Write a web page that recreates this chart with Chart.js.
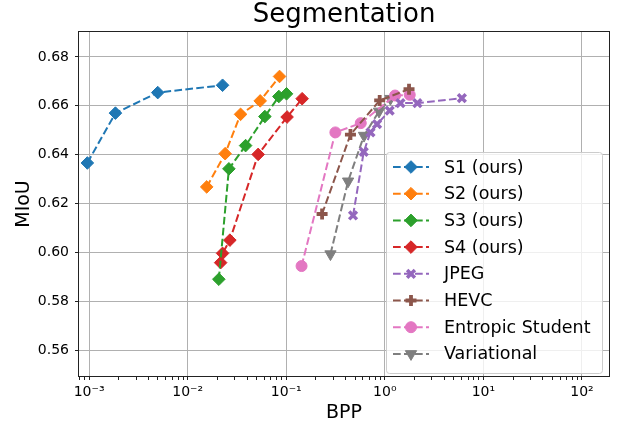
<!DOCTYPE html>
<html>
<head>
<meta charset="utf-8">
<title>Segmentation</title>
<script src="https://cdn.jsdelivr.net/npm/chart.js"></script>
<style>
    body { margin: 0; background: #fff; }
    #wrap { width: 621px; height: 428px; }
</style>
</head>
<body>
<div id="wrap"><canvas id="segChart"></canvas></div>
<script>
// values (x = BPP, y = MIoU)
const s1Bpp = [0.00096, 0.00185, 0.00497, 0.0226];
const s1Miou = [0.6366, 0.6570, 0.6654, 0.6684];
const s2Bpp = [0.0156, 0.0240, 0.0344, 0.0544, 0.0855];
const s2Miou = [0.6268, 0.6404, 0.6565, 0.6620, 0.6720];
const s3Bpp = [0.0207, 0.0262, 0.0387, 0.0607, 0.0841, 0.1007];
const s3Miou = [0.5890, 0.6342, 0.6437, 0.6556, 0.6638, 0.6649];
const s4Bpp = [0.0216, 0.0226, 0.0268, 0.0519, 0.102, 0.145];
const s4Miou = [0.5958, 0.5996, 0.6050, 0.6401, 0.6554, 0.6629];
const jpegBpp = [0.476, 0.611, 0.715, 0.834, 1.12, 1.44, 2.14, 6.05];
const jpegMiou = [0.6151, 0.6411, 0.6491, 0.6525, 0.6580, 0.6611, 0.6611, 0.6631];
const hevcBpp = [0.231, 0.448, 0.887, 1.76];
const hevcMiou = [0.6157, 0.6482, 0.6622, 0.6668];
const studentBpp = [0.143, 0.315, 0.57, 1.27, 1.79];
const studentMiou = [0.5944, 0.6491, 0.6529, 0.6642, 0.6645];
const variationalBpp = [0.281, 0.424, 0.615, 0.873, 1.14];
const variationalMiou = [0.5993, 0.6291, 0.6478, 0.6577, 0.6629];

// tick labels
const xTickValues = [0.001, 0.01, 0.1, 1, 10, 100];
const xTickLabels = ['10\u207B\u00B3', '10\u207B\u00B2', '10\u207B\u00B9', '10\u2070', '10\u00B9', '10\u00B2'];
const yTickValues = [0.56, 0.58, 0.60, 0.62, 0.64, 0.66, 0.68];
const yTickLabels = ['0.56', '0.58', '0.60', '0.62', '0.64', '0.66', '0.68'];

const X_MIN = 7.9e-4, X_MAX = 188;

Chart.defaults.font.family = "'DejaVu Sans', sans-serif";
Chart.defaults.color = '#000';

function pts(xs, ys) {
    return xs.map((x, i) => ({ x: x, y: ys[i] }));
}

function series(label, xs, ys, color, style, radius, pbw, rot) {
    return {
        label: label,
        data: pts(xs, ys),
        showLine: true,
        borderColor: color,
        backgroundColor: color,
        borderWidth: 2,
        borderDash: [7.7, 3.3],
        pointStyle: style,
        pointRadius: radius,
        pointHoverRadius: radius,
        pointBorderWidth: pbw,
        pointRotation: rot || 0,
        pointBackgroundColor: color,
        pointBorderColor: color
    };
}

// minor ticks 2..9 per decade, majors at powers of ten
function logTicks() {
    const out = [];
    for (let e = -4; e <= 2; e++) {
        for (let m = 1; m <= 9; m++) {
            const v = m * Math.pow(10, e);
            if (v >= X_MIN && v <= X_MAX) out.push({ value: v });
        }
    }
    return out;
}

function isMajor(v) {
    const l = Math.log10(v);
    return Math.abs(l - Math.round(l)) < 1e-9;
}

// title centred over the plot area
const titlePlugin = {
    id: 'plotTitle',
    afterDraw(chart) {
        const ctx = chart.ctx, ca = chart.chartArea;
        ctx.save();
        ctx.font = "26px 'DejaVu Sans'";
        ctx.fillStyle = '#000';
        ctx.textAlign = 'center';
        ctx.textBaseline = 'middle';
        ctx.fillText('Segmentation', (ca.left + ca.right) / 2, 15);
        ctx.restore();
    }
};

// frame round the axes
const framePlugin = {
    id: 'frame',
    afterDatasetsDraw(chart) {
        const ctx = chart.ctx, ca = chart.chartArea;
        ctx.save();
        ctx.strokeStyle = '#222';
        ctx.lineWidth = 1;
        ctx.strokeRect(Math.round(ca.left) - 0.5, Math.round(ca.top) - 0.5,
            Math.round(ca.right - ca.left) + 1, Math.round(ca.bottom - ca.top) + 1);
        ctx.restore();
    }
};

// matplotlib-like legend in the lower right corner
const legendPlugin = {
    id: 'boxLegend',
    afterDraw(chart) {
        const ctx = chart.ctx, ca = chart.chartArea;
        const sets = chart.data.datasets;
        const w = 216, rowH = 26.7, h = 221;
        const right = ca.right - 7, bottom = ca.bottom - 3;
        const left = right - w, top = bottom - h;
        ctx.save();
        ctx.beginPath();
        ctx.roundRect(left + 0.5, top + 0.5, w, h, 3);
        ctx.fillStyle = 'rgba(255,255,255,0.8)';
        ctx.fill();
        ctx.strokeStyle = '#cccccc';
        ctx.lineWidth = 1;
        ctx.stroke();

        ctx.font = "17.5px 'DejaVu Sans'";
        ctx.textBaseline = 'middle';
        ctx.textAlign = 'left';
        sets.forEach((ds, i) => {
            const y = top + 15 + i * rowH;
            ctx.beginPath();
            ctx.setLineDash(ds.borderDash);
            ctx.strokeStyle = ds.borderColor;
            ctx.lineWidth = ds.borderWidth;
            ctx.moveTo(left + 7, y);
            ctx.lineTo(left + 43, y);
            ctx.stroke();
            ctx.setLineDash([]);
            ctx.fillStyle = ds.pointBackgroundColor;
            ctx.strokeStyle = ds.pointBorderColor;
            ctx.lineWidth = ds.pointBorderWidth;
            Chart.helpers.drawPoint(ctx, {
                pointStyle: ds.pointStyle,
                rotation: ds.pointRotation,
                radius: ds.pointRadius,
                borderWidth: ds.pointBorderWidth
            }, left + 25, y);
            ctx.fillStyle = '#000';
            ctx.fillText(ds.label, left + 58, y + 1);
        });
        ctx.restore();
    }
};

const segCanvas = document.getElementById('segChart');
new Chart(segCanvas.getContext('2d'), {
    type: 'scatter',
    data: {
        datasets: [
            series('S1 (ours)', s1Bpp, s1Miou, '#1f77b4', 'rectRot', 6.3, 1),
            series('S2 (ours)', s2Bpp, s2Miou, '#ff7f0e', 'rectRot', 6.3, 1),
            series('S3 (ours)', s3Bpp, s3Miou, '#2ca02c', 'rectRot', 6.3, 1),
            series('S4 (ours)', s4Bpp, s4Miou, '#d62728', 'rectRot', 6.3, 1),
            series('JPEG', jpegBpp, jpegMiou, '#9467bd', 'crossRot', 5.5, 3.5),
            series('HEVC', hevcBpp, hevcMiou, '#8c564b', 'cross', 5.5, 3.8),
            series('Entropic Student', studentBpp, studentMiou, '#e377c2', 'circle', 5.5, 1),
            series('Variational', variationalBpp, variationalMiou, '#7f7f7f', 'triangle', 6.5, 1, 180)
        ]
    },
    options: {
        responsive: true,
        maintainAspectRatio: false,
        animation: false,
        layout: { padding: { top: 32, right: 12, left: 0, bottom: 0 } },
        plugins: {
            legend: { display: false },
            tooltip: { enabled: false },
            title: { display: false }
        },
        scales: {
            x: {
                type: 'logarithmic',
                min: X_MIN,
                max: X_MAX,
                afterBuildTicks: scale => { scale.ticks = logTicks(); },
                afterFit: scale => { scale.height = 52; },
                ticks: {
                    autoSkip: false,
                    maxRotation: 0,
                    padding: 4,
                    font: { size: 14 },
                    callback: value => {
                        const i = xTickValues.findIndex(v => Math.abs(v - value) / v < 1e-6);
                        return i >= 0 ? xTickLabels[i] : '';
                    }
                },
                grid: {
                    color: ctx => (ctx.tick && isMajor(ctx.tick.value)) ? '#b0b0b0' : 'rgba(0,0,0,0)',
                    lineWidth: 1,
                    tickLength: 4,
                    tickColor: '#222'
                },
                border: { display: false },
                title: {
                    display: true,
                    text: 'BPP',
                    font: { size: 19 },
                    padding: { top: 0, bottom: 4 }
                }
            },
            y: {
                min: 0.5494,
                max: 0.6902,
                afterBuildTicks: scale => { scale.ticks = yTickValues.map(v => ({ value: v })); },
                afterFit: scale => { scale.width = 79; },
                ticks: {
                    padding: 6,
                    font: { size: 14 },
                    callback: (value, i) => yTickLabels[i]
                },
                grid: {
                    color: '#b0b0b0',
                    lineWidth: 1,
                    tickLength: 4,
                    tickColor: '#222'
                },
                border: { display: false },
                title: {
                    display: true,
                    text: 'MIoU',
                    font: { size: 19 },
                    padding: { top: 13, bottom: 0 }
                }
            }
        }
    },
    plugins: [titlePlugin, framePlugin, legendPlugin]
});
</script>
</body>
</html>
